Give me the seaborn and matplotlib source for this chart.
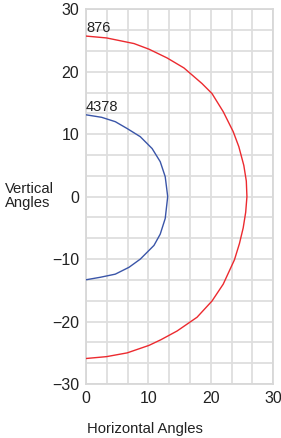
import matplotlib
matplotlib.use("Agg")
import matplotlib.pyplot as plt
from matplotlib.ticker import MultipleLocator
import seaborn as sns
import pandas as pd

# curve: (horizontal angle, vertical angle)
red_h = [0, 3.3, 7.7, 10.1, 13.0, 15.7, 18.6, 20.2, 22.0, 23.6, 24.5, 25.3, 25.7, 25.8,
         25.6, 25.2, 24.6, 23.8, 22.0, 20.2, 17.8, 16.2, 14.6, 12.0, 10.1, 6.6, 3.3, 0]
red_v = [25.7, 25.4, 24.5, 23.6, 22.2, 20.6, 18.1, 16.5, 13.6, 10.4, 8.0, 5.0, 2.5, 0,
         -2.5, -5.0, -7.5, -10.1, -14.0, -16.7, -19.3, -20.4, -21.5, -22.9, -23.8, -25.0, -25.6, -25.9]
blue_h = [0, 2.5, 4.7, 6.6, 8.7, 10.6, 11.9, 12.7, 13.1, 12.7, 11.9, 10.9, 8.7, 6.9, 4.7, 2.3, 0]
blue_v = [13.1, 12.7, 12.0, 10.9, 9.6, 7.7, 5.6, 3.2, 0, -3.5, -6.0, -7.8, -10.0, -11.3, -12.4, -12.9, -13.3]
labels = ["876", "4378"]

df = pd.concat([
    pd.DataFrame({"h": red_h, "v": red_v, "curve": labels[0]}),
    pd.DataFrame({"h": blue_h, "v": blue_v, "curve": labels[1]}),
])

sns.set_style("white")
plt.rcParams["font.family"] = ["Liberation Sans", "DejaVu Sans"]

fig = plt.figure(figsize=(2.81, 4.38), dpi=100)
ax = fig.add_axes([0.306, 0.123, 0.666, 0.856])

sns.lineplot(data=df, x="h", y="v", hue="curve", sort=False, estimator=None,
             palette={"876": "#ec2a2f", "4378": "#3a55a8"}, linewidth=1.0,
             legend=False, ax=ax, zorder=3)

ax.set_xlim(0, 30)
ax.set_ylim(-30, 30)
ax.xaxis.set_major_locator(MultipleLocator(10))
ax.yaxis.set_major_locator(MultipleLocator(10))
ax.xaxis.set_minor_locator(MultipleLocator(10 / 3))
ax.yaxis.set_minor_locator(MultipleLocator(10 / 3))
ax.grid(True, which="both", color="#dedede", linewidth=1.3)
ax.tick_params(which="both", length=0, labelsize=11.5, colors="#222222", pad=5)
for s in ax.spines.values():
    s.set_color("#d8d8d8")
    s.set_linewidth(1.3)

ax.set_xlabel("")
ax.set_ylabel("")
fig.text(0.31, 0.012, "Horizontal Angles", fontsize=10.7, color="#222222")
fig.text(0.018, 0.552, "Vertical\nAngles", fontsize=10.7, color="#222222",
         va="center", ha="left", linespacing=0.95)

# curve labels at the top of each curve
for h, v, lab in [(red_h[0], red_v[0], labels[0]), (blue_h[0], blue_v[0], labels[1])]:
    ax.text(h, v + 0.2, lab, fontsize=10.5, color="#222222", ha="left", va="bottom", zorder=4)

fig.savefig("out.png", dpi=100)
